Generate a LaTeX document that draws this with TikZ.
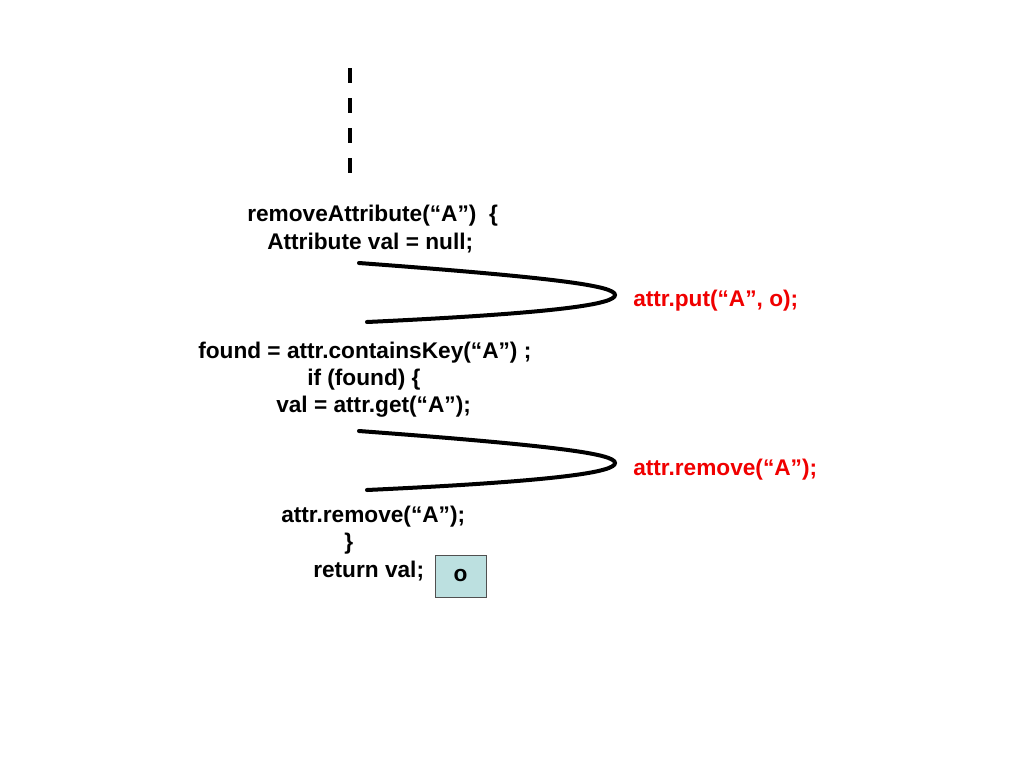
\documentclass[tikz,border=0pt]{standalone}
\usepackage{fontspec}
\setmainfont{Liberation Sans}
\usepackage{tikz}

\tikzset{
  code/.style={anchor=west, inner sep=0pt, font=\fontsize{17}{20}\selectfont\bfseries},
  event/.style={code, text={rgb,255:red,240;green,0;blue,0}},
  swerve/.style={line width=3pt, line cap=round},
}

\begin{document}
\begin{tikzpicture}[x=0.75pt, y=-0.75pt]
      \useasboundingbox (0,0) rectangle (1024,768);
      \draw[line width=3pt, dash pattern=on 11.25pt off 11.25pt] (350,68) -- (350,176);
      \node[code] (head) at (247,216) {removeAttribute(“A”)\ \ \{};
      \node[code] (init) at (267,243) {Attribute val = null;};
      \node[event] (put) at (633,301) {attr.put(“A”, o);};
      \node[code] (found) at (198,353) {found = attr.containsKey(“A”) ;};
      \node[code] (iffound) at (307,380) {if (found) \{};
      \node[code] (get) at (276,407) {val = attr.get(“A”);};
      \node[event] (rem) at (633,470) {attr.remove(“A”);};
      \node[code] (remove) at (281,517) {attr.remove(“A”);};
      \node[code] (close) at (344,544) {\}};
      \node[code] (ret) at (313,571) {return val;};
      \node[draw={rgb,255:red,80;green,80;blue,80}, fill={rgb,255:red,188;green,224;blue,224},
        minimum width=51*0.75pt, minimum height=42*0.75pt, inner sep=0pt,
        font=\fontsize{17}{20}\selectfont\bfseries] (obj) at (460.5,576) {\raisebox{-2pt}{o}};
      \draw[swerve] (359,263) .. controls (560,278) and (615,286) .. (615,295)
        .. controls (615,304) and (560,313) .. (367,322);
      \draw[swerve] (359,431) .. controls (560,446) and (615,454) .. (615,463)
        .. controls (615,472) and (560,481) .. (367,490);
\end{tikzpicture}
\end{document}
